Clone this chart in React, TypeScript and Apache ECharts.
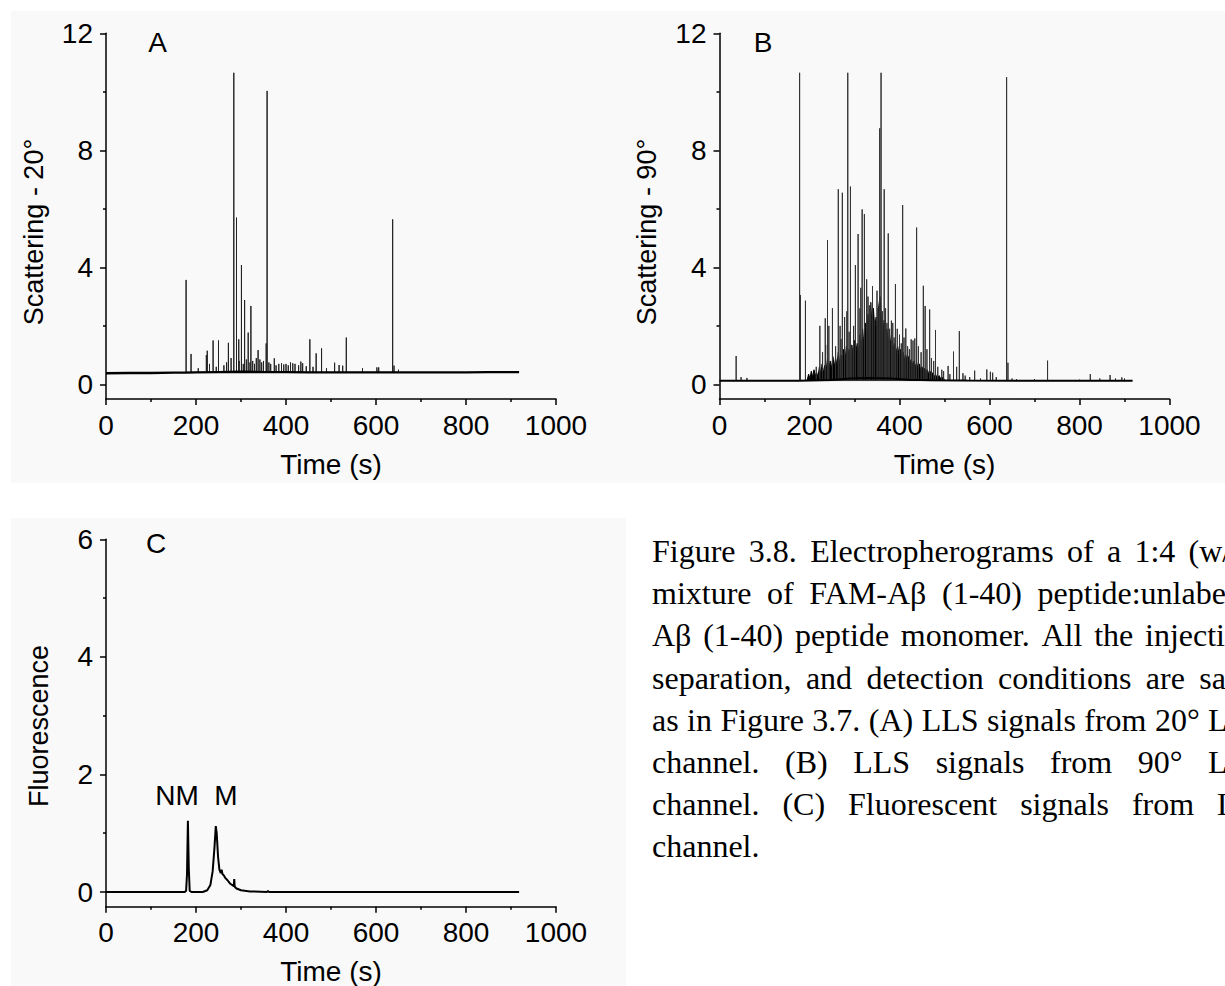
import React, { useEffect, useRef } from "react";
import * as echarts from "echarts";

// ---------- data ----------
const xTicks = [0, 200, 400, 600, 800, 1000];
const abYTicks = [0, 4, 8, 12];
const abYMinor = [2, 6, 10];
const cYTicks = [0, 2, 4, 6];
const cYMinor = [1, 3, 5];

// Panel A: 20° scattering
const aBaseline: [number, number][] = [
  [0, 0.38], [50, 0.39], [100, 0.39], [150, 0.4], [176, 0.4], [200, 0.41], [250, 0.42],
  [300, 0.43], [350, 0.42], [400, 0.42], [450, 0.41], [500, 0.41], [550, 0.41],
  [600, 0.41], [650, 0.41], [700, 0.41], [750, 0.41], [800, 0.41], [850, 0.42], [918, 0.42],
];
const aBaseLevel = 0.41;
const aSpikes: [number, number][] = [
  [178, 3.57], [189, 1.04], [205, 0.55], [223, 1.0], [225, 1.15], [230, 0.7], [238, 1.5],
  [245, 0.6], [250, 1.5], [262, 0.65], [268, 0.75], [272, 1.42], [278, 0.9], [284, 10.65],
  [290, 5.7], [295, 1.54], [296, 0.8], [301, 4.08], [305, 0.7], [308, 2.88], [312, 0.85],
  [316, 1.77], [320, 0.75], [322, 2.68], [326, 0.8], [330, 0.7], [334, 0.9], [338, 1.17],
  [342, 0.85], [346, 0.75], [350, 0.8], [356, 1.4], [358, 10.03], [362, 0.75], [366, 0.7],
  [374, 0.89], [378, 0.65], [384, 0.7], [390, 0.72], [395, 0.68], [400, 0.7], [405, 0.65],
  [410, 0.75], [415, 0.72], [420, 0.7], [428, 0.65], [433, 0.78], [437, 0.72], [445, 0.62],
  [453, 1.54], [460, 0.6], [467, 1.06], [479, 1.23], [490, 0.55], [508, 0.74], [518, 0.66],
  [526, 0.64], [534, 1.6], [570, 0.55], [602, 0.58], [606, 0.58], [637, 5.64], [640, 0.64],
  [650, 0.5],
];

// Panel B: 90° scattering
const bBaseline: [number, number][] = [
  [0, 0.12], [100, 0.12], [175, 0.12], [200, 0.13], [250, 0.15], [290, 0.2], [330, 0.22],
  [380, 0.2], [420, 0.16], [470, 0.14], [550, 0.13], [700, 0.12], [918, 0.12],
];
const bBaseLevel = 0.13;
const bEnvelope: [number, number][] = [
  [195, 0.15], [198, 0.35], [201, 0.2], [204, 0.45], [207, 0.25], [210, 0.5], [213, 0.3],
  [216, 0.4], [219, 0.25], [222, 0.6], [225, 0.35], [228, 0.7], [231, 0.4], [234, 0.65],
  [237, 0.45], [240, 0.9], [243, 0.5], [246, 0.8], [249, 0.55], [252, 0.95], [255, 0.6],
  [258, 0.9], [261, 0.65], [264, 1.1], [267, 0.7], [270, 1.0], [273, 0.75], [276, 1.2],
  [279, 0.8], [282, 1.3], [285, 0.9], [288, 1.2], [291, 0.85], [294, 1.35], [297, 1.0],
  [300, 1.5], [303, 1.1], [306, 1.4], [309, 1.15], [312, 1.7], [315, 1.2], [318, 1.9],
  [321, 1.3], [324, 2.1], [327, 1.5], [330, 2.4], [333, 1.7], [336, 2.8], [339, 2.0],
  [342, 2.6], [345, 1.9], [348, 2.3], [351, 1.8], [354, 2.7], [357, 3.0], [360, 2.1],
  [363, 1.8], [366, 2.2], [369, 1.6], [372, 1.9], [375, 1.4], [378, 1.7], [381, 1.3],
  [384, 1.5], [387, 1.2], [390, 1.4], [393, 1.1], [396, 1.3], [399, 1.0], [402, 1.2],
  [405, 0.95], [408, 1.1], [411, 0.85], [414, 1.0], [417, 0.8], [420, 0.95], [423, 0.7],
  [426, 0.85], [429, 0.65], [432, 0.8], [435, 0.6], [438, 0.75], [441, 0.55], [444, 0.7],
  [447, 0.5], [450, 0.6], [453, 0.45], [456, 0.55], [459, 0.4], [462, 0.5], [465, 0.35],
  [468, 0.45], [471, 0.3], [474, 0.4], [477, 0.25], [480, 0.35], [484, 0.2], [488, 0.3],
  [492, 0.18], [496, 0.25], [500, 0.15],
];
const bSpikes: [number, number][] = [
  [37, 0.97], [48, 0.25], [61, 0.22], [178, 10.65], [180, 3.05], [191, 2.86], [215, 0.6],
  [223, 2.0], [229, 1.1], [235, 2.26], [236, 1.35], [240, 4.93], [243, 2.0], [251, 2.6],
  [258, 1.3], [264, 6.67], [268, 2.0], [270, 1.55], [273, 6.55], [278, 2.3], [283, 2.5],
  [285, 10.65], [288, 1.8], [291, 6.76], [294, 1.3], [298, 2.0], [302, 4.08], [308, 5.14],
  [312, 2.6], [314, 3.3], [317, 5.98], [322, 5.82], [327, 3.59], [330, 3.0], [333, 2.7],
  [336, 2.8], [340, 3.36], [344, 2.2], [350, 3.2], [352, 2.6], [356, 8.75], [359, 10.65],
  [362, 2.5], [366, 6.67], [369, 2.6], [372, 2.1], [375, 5.16], [378, 1.9], [382, 2.18],
  [385, 2.1], [388, 1.6], [391, 3.43], [395, 1.9], [400, 1.7], [404, 1.4], [407, 6.13],
  [410, 1.6], [414, 1.91], [418, 1.3], [422, 1.2], [426, 1.54], [430, 1.5], [434, 1.57],
  [438, 5.36], [442, 1.3], [448, 1.1], [453, 3.37], [457, 2.68], [461, 1.2], [467, 2.56],
  [471, 0.9], [476, 0.8], [480, 1.86], [485, 0.6], [494, 0.5], [498, 0.45], [508, 0.63],
  [512, 0.35], [520, 1.12], [527, 0.6], [533, 1.82], [541, 0.38], [546, 0.3], [556, 0.25],
  [567, 0.47], [580, 0.2], [594, 0.51], [602, 0.43], [607, 0.4], [615, 0.25], [638, 10.5],
  [641, 0.74], [650, 0.2], [660, 0.18], [700, 0.18], [729, 0.81], [750, 0.15], [800, 0.16],
  [824, 0.35], [845, 0.2], [868, 0.32], [880, 0.2], [894, 0.24], [900, 0.2],
];

// Panel C: fluorescence
const cTrace: [number, number][] = [
  [0, 0], [100, 0], [175, 0], [178, 0.02], [180, 0.3], [182, 1.21], [184, 0.4], [186, 0.02],
  [190, 0], [215, 0], [225, 0.03], [232, 0.12], [237, 0.35], [241, 0.75], [244, 1.12],
  [246, 1.0], [249, 0.6], [252, 0.38], [255, 0.32], [257, 0.38], [259, 0.3], [262, 0.28],
  [265, 0.24], [270, 0.2], [275, 0.15], [280, 0.12], [284, 0.1], [285, 0.22], [286, 0.09],
  [290, 0.06], [300, 0.03], [320, 0.01], [358, 0.0], [360, 0.02], [362, 0], [918, 0],
];

// caption (justified lines; last line left-aligned)
const captionLines: string[] = [
  "Figure 3.8. Electropherograms of a 1:4 (w/w)",
  "mixture of FAM-Aβ (1-40) peptide:unlabeled",
  "Aβ (1-40) peptide monomer. All the injection,",
  "separation, and detection conditions are same",
  "as in Figure 3.7. (A) LLS signals from 20° LLS",
  "channel. (B) LLS signals from 90° LLS",
  "channel. (C) Fluorescent signals from LIF",
  "channel.",
];

// ---------- helpers ----------
const SANS = '"Liberation Sans", Arial, Helvetica, sans-serif';
const SERIF = '"Liberation Serif", "Times New Roman", serif';

function spikeLine(spikes: [number, number][], base: number): [number, number][] {
  const out: [number, number][] = [];
  spikes.forEach(([t, h]) => {
    out.push([t, base], [t, h], [t, base]);
  });
  return out;
}

function xAxisCfg(gridIndex: number) {
  return {
    type: "value",
    gridIndex,
    min: 0,
    max: 1000,
    interval: 200,
    axisLine: { show: true, onZero: false, lineStyle: { color: "#000", width: 1.5 } },
    axisTick: { show: true, length: 6, lineStyle: { color: "#000", width: 1.5 } },
    minorTick: { show: true, splitNumber: 2, length: 3, lineStyle: { color: "#000", width: 1.5 } },
    axisLabel: {
      fontSize: 28, color: "#000", margin: 12, fontFamily: SANS,
      customValues: xTicks,
      formatter: (v: number) => String(v),
    },
    splitLine: { show: false },
    minorSplitLine: { show: false },
  };
}

function yAxisCfg(gridIndex: number, min: number, max: number, ticks: number[]) {
  return {
    type: "value",
    gridIndex,
    position: "left",
    min,
    max,
    axisLine: { show: true, onZero: false, lineStyle: { color: "#000", width: 1.5 } },
    axisTick: { show: true, length: 6, customValues: ticks, lineStyle: { color: "#000", width: 1.5 } },
    axisLabel: {
      fontSize: 28, color: "#000", margin: 13, fontFamily: SANS, customValues: ticks,
      formatter: (v: number) => String(v),
    },
    splitLine: { show: false },
  };
}

function yMinorCfg(gridIndex: number, min: number, max: number, ticks: number[]) {
  return {
    type: "value",
    gridIndex,
    position: "left",
    min,
    max,
    axisLine: { show: false, onZero: false },
    axisTick: { show: true, length: 3, customValues: ticks, lineStyle: { color: "#000", width: 1.5 } },
    axisLabel: { show: false, customValues: ticks },
    splitLine: { show: false },
  };
}

function txt(text: string, x: number, y: number, size: number, opts: any = {}) {
  return {
    type: "text",
    x,
    y,
    rotation: opts.rotation || 0,
    silent: true,
    z: 100,
    style: {
      text,
      fill: "#000",
      font: `${size}px ${opts.family || SANS}`,
      textAlign: opts.align || "center",
      align: opts.align || "center",
      textVerticalAlign: "middle",
      verticalAlign: "middle",
    },
  };
}

function buildCaption(): any[] {
  const size = 32;
  const left = 652;
  const right = 1265;
  const lineGap = 42.2;
  const canvas = document.createElement("canvas");
  const ctx = canvas.getContext("2d")!;
  ctx.font = `${size}px ${SERIF}`;
  const out: any[] = [];
  captionLines.forEach((line, li) => {
    const y = 551 + li * lineGap;
    const words = line.split(" ");
    const last = li === captionLines.length - 1;
    if (last || words.length < 2) {
      out.push(txt(line, left, y, size, { family: SERIF, align: "left" }));
      return;
    }
    const widths = words.map((w) => ctx.measureText(w).width);
    const total = widths.reduce((a, b) => a + b, 0);
    const gap = (right - left - total) / (words.length - 1);
    let x = left;
    words.forEach((w, wi) => {
      out.push(txt(w, x, y, size, { family: SERIF, align: "left" }));
      x += widths[wi] + gap;
    });
  });
  return out;
}

export default function App() {
  const ref = useRef<HTMLDivElement>(null);

  useEffect(() => {
    if (!ref.current) return;
    const chart = echarts.init(ref.current, undefined, { renderer: "svg" });

    const option: any = {
      animation: false,
      backgroundColor: "#ffffff",
      grid: [
        { left: 106, top: 33.3, width: 450, height: 365.7 },
        { left: 719.5, top: 33.3, width: 450, height: 365.7 },
        { left: 106, top: 539.3, width: 450, height: 367.4 },
      ],
      xAxis: [xAxisCfg(0), xAxisCfg(1), xAxisCfg(2)],
      yAxis: [
        yAxisCfg(0, -0.5, 12, abYTicks),
        yMinorCfg(0, -0.5, 12, abYMinor),
        yAxisCfg(1, -0.5, 12, abYTicks),
        yMinorCfg(1, -0.5, 12, abYMinor),
        yAxisCfg(2, -0.25, 6, cYTicks),
        yMinorCfg(2, -0.25, 6, cYMinor),
      ],
      series: [
        {
          type: "line", xAxisIndex: 0, yAxisIndex: 0, data: aBaseline, symbol: "none",
          lineStyle: { color: "#000", width: 2.4 }, z: 3,
        },
        {
          type: "line", xAxisIndex: 0, yAxisIndex: 0, data: spikeLine(aSpikes, aBaseLevel), symbol: "none",
          lineStyle: { color: "#222", width: 1 }, z: 2,
        },
        {
          type: "line", xAxisIndex: 1, yAxisIndex: 2, data: bEnvelope, symbol: "none",
          lineStyle: { color: "#000", width: 1 }, areaStyle: { color: "#000", opacity: 1, origin: bBaseLevel }, z: 2,
        },
        {
          type: "line", xAxisIndex: 1, yAxisIndex: 2, data: spikeLine(bSpikes, bBaseLevel), symbol: "none",
          lineStyle: { color: "#333", width: 1 }, z: 2,
        },
        {
          type: "line", xAxisIndex: 1, yAxisIndex: 2, data: bBaseline, symbol: "none",
          lineStyle: { color: "#000", width: 2 }, z: 3,
        },
        {
          type: "line", xAxisIndex: 2, yAxisIndex: 4, data: cTrace, symbol: "none",
          lineStyle: { color: "#000", width: 2 }, z: 3,
        },
      ],
      graphic: [
        { type: "rect", z: -10, silent: true, shape: { x: 11, y: 11, width: 1214, height: 472 }, style: { fill: "#f9f9f9" } },
        { type: "rect", z: -10, silent: true, shape: { x: 11, y: 518, width: 615, height: 468 }, style: { fill: "#f9f9f9" } },
        txt("A", 157.5, 42, 28),
        txt("B", 763, 42, 28),
        txt("C", 156, 543, 28),
        txt("NM", 177, 795, 28),
        txt("M", 226, 795, 28),
        txt("Scattering - 20°", 34, 232, 27, { rotation: Math.PI / 2 }),
        txt("Scattering - 90°", 647, 232, 27, { rotation: Math.PI / 2 }),
        txt("Fluorescence", 39, 726, 27, { rotation: Math.PI / 2 }),
        txt("Time (s)", 331, 464, 28),
        txt("Time (s)", 944.5, 464, 28),
        txt("Time (s)", 331, 971, 28),
        ...buildCaption(),
      ],
    };
    chart.setOption(option);
    return () => chart.dispose();
  }, []);

  return (
    <div
      ref={ref}
      style={{ position: "absolute", left: 0, top: 0, width: 1225, height: 986 }}
    />
  );
}
